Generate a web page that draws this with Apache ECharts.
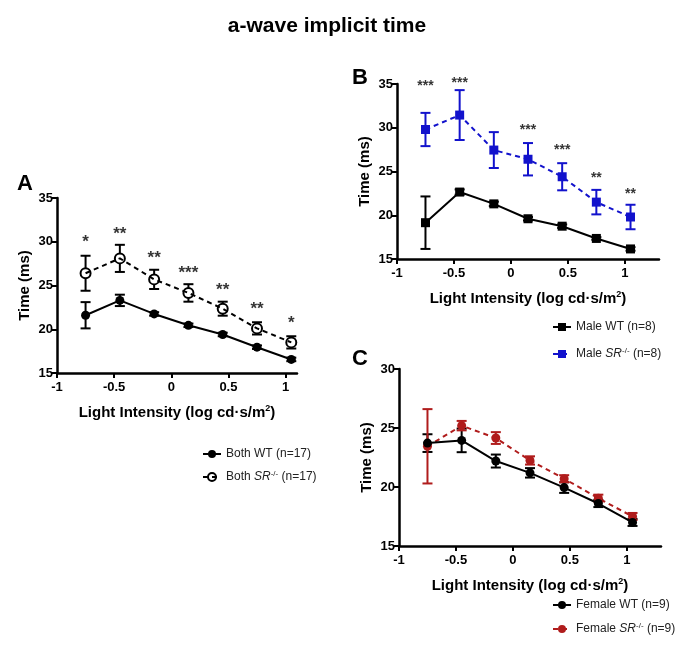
<!DOCTYPE html>
<html><head><meta charset="utf-8">
<script src="https://cdn.jsdelivr.net/npm/echarts@6/dist/echarts.min.js"></script>
<style>html,body{margin:0;padding:0;background:#fff}#c{width:677px;height:650px}</style>
</head><body><div id="c"></div>
<script>
// ---- data ----
const xs = [-0.75, -0.45, -0.15, 0.15, 0.45, 0.75, 1.05];
const xTicks = [-1, -0.5, 0, 0.5, 1];
// Panel A (Both)
const aWT = [21.6, 23.3, 21.75, 20.45, 19.4, 17.95, 16.55];
const aWTerr = [1.5, 0.65, 0.2, 0.2, 0.2, 0.2, 0.2];
const aSR = [26.4, 28.1, 25.7, 24.15, 22.35, 20.1, 18.5];
const aSRerr = [2.0, 1.55, 1.1, 1.0, 0.8, 0.7, 0.7];
const aStarY = [29.9, 30.8, 28.1, 26.45, 24.45, 22.25, 20.7];
const aStars = ['*', '**', '**', '***', '**', '**', '*'];
// Panel B (Male)
const bWT = [19.15, 22.65, 21.3, 19.6, 18.75, 17.35, 16.15];
const bWTerr = [3.0, 0.3, 0.25, 0.2, 0.2, 0.15, 0.2];
const bSR = [29.8, 31.45, 27.45, 26.4, 24.4, 21.5, 19.8];
const bSRerr = [1.9, 2.85, 2.05, 1.85, 1.55, 1.4, 1.4];
const bStarY = [34.75, 35.15, null, 29.75, 27.4, 24.2, 22.4];
const bStars = ['***', '***', '', '***', '***', '**', '**'];
// Panel C (Female)
const cWT = [23.72, 23.95, 22.2, 21.2, 19.95, 18.6, 17.0];
const cWTerr = [0.75, 1.0, 0.55, 0.4, 0.45, 0.3, 0.3];
const cSR = [23.45, 25.2, 24.15, 22.25, 20.7, 19.05, 17.5];
const cSRerr = [3.15, 0.4, 0.5, 0.35, 0.3, 0.3, 0.3];

const FONT = '"Liberation Sans", Arial, Helvetica, sans-serif';
const BLUE = '#1212CC', RED = '#B01C1C', BLACK = '#000';

const pairs = (ys) => xs.map((x, i) => [x, ys[i]]);
const triples = (ys, es) => xs.map((x, i) => [x, ys[i], es[i]]);

function errSeries(idx, ys, es, color, gap, capW) {
  return {
    type: 'custom', xAxisIndex: idx, yAxisIndex: idx, z: 3, silent: true,
    data: triples(ys, es),
    renderItem: function (params, api) {
      const x = api.value(0), y = api.value(1), e = api.value(2);
      const t = api.coord([x, y + e]), b = api.coord([x, y - e]), c = api.coord([x, y]);
      const st = { stroke: color, lineWidth: 2 };
      const ch = [];
      if (t[1] < c[1] - gap) ch.push({ type: 'line', shape: { x1: t[0], y1: t[1], x2: c[0], y2: c[1] - gap }, style: st });
      if (b[1] > c[1] + gap) ch.push({ type: 'line', shape: { x1: c[0], y1: c[1] + gap, x2: b[0], y2: b[1] }, style: st });
      if (t[1] < c[1] - gap) ch.push({ type: 'line', shape: { x1: t[0] - capW, y1: t[1], x2: t[0] + capW, y2: t[1] }, style: st });
      if (b[1] > c[1] + gap) ch.push({ type: 'line', shape: { x1: b[0] - capW, y1: b[1], x2: b[0] + capW, y2: b[1] }, style: st });
      return { type: 'group', children: ch };
    }
  };
}
function lineSeries(idx, name, ys, color, dashed, symbol, size, hollow) {
  return {
    type: 'line', name: name, xAxisIndex: idx, yAxisIndex: idx, z: 4,
    data: pairs(ys), symbol: symbol, symbolSize: size, showSymbol: true,
    lineStyle: { color: color, width: 2, type: dashed ? [5, 4] : 'solid' },
    itemStyle: hollow ? { color: 'rgba(255,255,255,0)', borderColor: color, borderWidth: 2 } : { color: color, borderWidth: 0 },
    emphasis: { disabled: true }
  };
}
function starSeries(idx, ys, texts, size) {
  return {
    type: 'scatter', xAxisIndex: idx, yAxisIndex: idx, symbolSize: 0, clip: false, silent: true,
    data: xs.map((x, i) => ys[i] == null ? null : { value: [x, ys[i]], label: { formatter: texts[i] } }).filter(d => d),
    label: { show: true, position: 'inside', color: '#000', fontFamily: FONT, fontWeight: 'bold', fontSize: size }
  };
}
const axisLineStyle = { color: '#000', width: 2.5 };
const axisNameRich = { sup: { fontSize: 9, fontWeight: 'bold', fontFamily: FONT, verticalAlign: 'top', padding: [0, 0, 8, 0], color: '#000' } };
function xAx(idx, max) {
  return {
    type: 'value', gridIndex: idx, min: -1, max: max, interval: 0.5,
    splitLine: { show: false },
    axisLine: { show: true, onZero: false, lineStyle: axisLineStyle },
    axisTick: { show: true, length: 5, lineStyle: { width: 2, color: '#000' }, customValues: xTicks },
    axisLabel: { customValues: xTicks, color: '#000', fontFamily: FONT, fontWeight: 'bold', fontSize: 13, margin: 8 },
    name: 'Light Intensity (log cd·s/m{sup|2})', nameLocation: 'middle', nameGap: 31,
    nameTextStyle: { color: '#000', fontFamily: FONT, fontWeight: 'bold', fontSize: 15, rich: axisNameRich }
  };
}
function yAx(idx, min, max) {
  return {
    type: 'value', gridIndex: idx, min: min, max: max, interval: 5,
    splitLine: { show: false },
    axisLine: { show: true, onZero: false, lineStyle: axisLineStyle },
    axisTick: { show: true, length: 5, lineStyle: { width: 2, color: '#000' } },
    axisLabel: { color: '#000', fontFamily: FONT, fontWeight: 'bold', fontSize: 13, margin: 4 },
    name: 'Time (ms)', nameLocation: 'middle', nameGap: 25, nameRotate: 90,
    nameTextStyle: { color: '#000', fontFamily: FONT, fontWeight: 'bold', fontSize: 15 }
  };
}
const legRich = {
  i: { fontStyle: 'italic', fontSize: 12, fontFamily: FONT, color: '#222' },
  s: { fontSize: 8, fontFamily: FONT, color: '#222', verticalAlign: 'top', padding: [0, 0, 6, 0] }
};
function legend(names, left, top, gap) {
  return {
    data: names, left: left, top: top, orient: 'vertical', itemGap: gap, itemWidth: 18, itemHeight: 10,
    selectedMode: false,
    textStyle: { color: '#222', fontFamily: FONT, fontSize: 12, rich: legRich },
    formatter: function (n) { return n.replace('SR-/-', '{i|SR}{s|-/-}'); }
  };
}

const chart = echarts.init(document.getElementById('c'), null, { renderer: 'canvas' });
chart.setOption({
  animation: false,
  backgroundColor: '#fff',
  title: [
    { text: 'a-wave implicit time', left: 322, top: 11, textAlign: 'center', textStyle: { fontFamily: FONT, fontWeight: 'bold', fontSize: 21, color: '#000' } },
    { text: 'A', left: 12, top: 168, textStyle: { fontFamily: FONT, fontWeight: 'bold', fontSize: 22, color: '#000' } },
    { text: 'B', left: 347, top: 62, textStyle: { fontFamily: FONT, fontWeight: 'bold', fontSize: 22, color: '#000' } },
    { text: 'C', left: 347, top: 343, textStyle: { fontFamily: FONT, fontWeight: 'bold', fontSize: 22, color: '#000' } }
  ],
  grid: [
    { left: 57, top: 198, width: 240, height: 175 },
    { left: 397, top: 84, width: 262, height: 175 },
    { left: 399, top: 369, width: 262, height: 177 }
  ],
  xAxis: [xAx(0, 1.1), xAx(1, 1.3), xAx(2, 1.3)],
  yAxis: [yAx(0, 15, 35), yAx(1, 15, 35), yAx(2, 15, 30)],
  legend: [
    legend(['Both WT (n=17)', 'Both SR-/- (n=17)'], 197, 443, 10),
    legend(['Male WT (n=8)', 'Male SR-/- (n=8)'], 547, 316, 14),
    legend(['Female WT (n=9)', 'Female SR-/- (n=9)'], 547, 594, 11)
  ],
  series: [
    errSeries(0, aWT, aWTerr, BLACK, 0, 5),
    errSeries(0, aSR, aSRerr, BLACK, 5, 5),
    lineSeries(0, 'Both WT (n=17)', aWT, BLACK, false, 'circle', 9, false),
    lineSeries(0, 'Both SR-/- (n=17)', aSR, BLACK, true, 'circle', 10, true),
    starSeries(0, aStarY, aStars, 17),
    errSeries(1, bWT, bWTerr, BLACK, 0, 5),
    errSeries(1, bSR, bSRerr, BLUE, 0, 5),
    lineSeries(1, 'Male WT (n=8)', bWT, BLACK, false, 'rect', 9, false),
    lineSeries(1, 'Male SR-/- (n=8)', bSR, BLUE, true, 'rect', 9, false),
    starSeries(1, bStarY, bStars, 14),
    errSeries(2, cWT, cWTerr, BLACK, 0, 5),
    errSeries(2, cSR, cSRerr, RED, 0, 5),
    lineSeries(2, 'Female SR-/- (n=9)', cSR, RED, true, 'circle', 9, false),
    lineSeries(2, 'Female WT (n=9)', cWT, BLACK, false, 'circle', 9, false)
  ]
});
</script></body></html>
